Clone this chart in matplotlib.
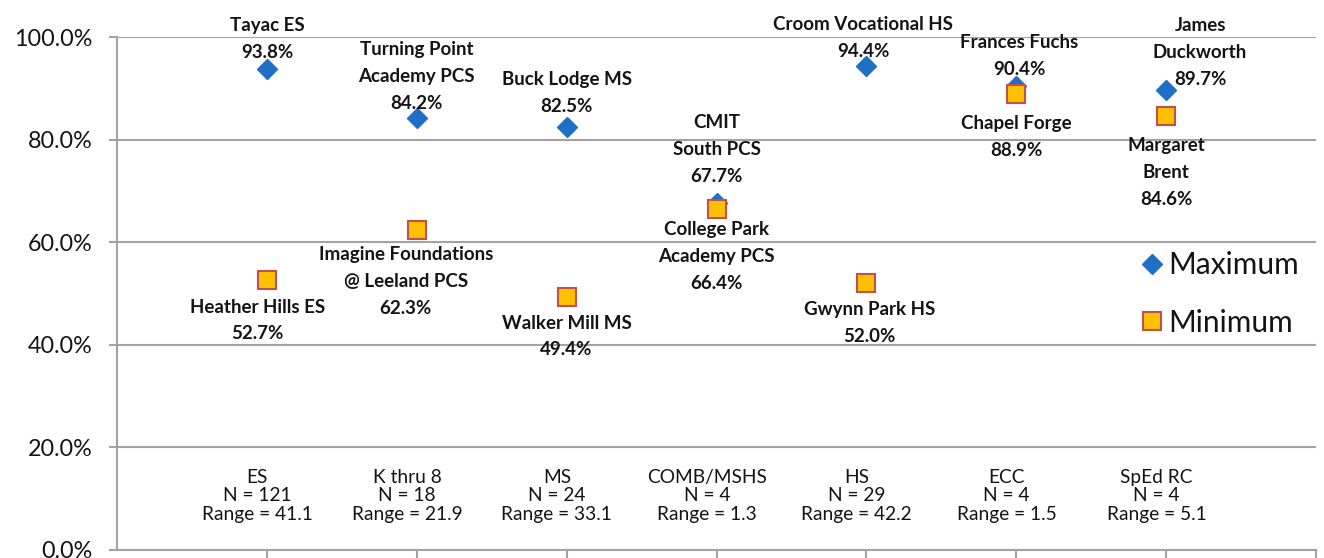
import matplotlib
matplotlib.use("Agg")
import matplotlib.pyplot as plt
from matplotlib.ticker import FuncFormatter, MultipleLocator

# ---- data ----
categories = ["ES", "K thru 8", "MS", "COMB/MSHS", "HS", "ECC", "SpEd RC"]
n_schools = [121, 18, 24, 4, 29, 4, 4]
ranges = [41.1, 21.9, 33.1, 1.3, 42.2, 1.5, 5.1]
max_values = [93.8, 84.2, 82.5, 67.7, 94.4, 90.4, 89.7]
max_names = ["Tayac ES", "Turning Point\nAcademy PCS", "Buck Lodge MS", "CMIT\nSouth PCS",
             "Croom Vocational HS", "Frances Fuchs", "James\nDuckworth"]
min_values = [52.7, 62.3, 49.4, 66.4, 52.0, 88.9, 84.6]
min_names = ["Heather Hills ES", "Imagine Foundations\n@ Leeland PCS", "Walker Mill MS",
             "College Park\nAcademy PCS", "Gwynn Park HS", "Chapel Forge", "Margaret\nBrent"]

# ---- layout tweaks (pixel offsets for labels) ----
max_dx = [0, 0, 0, 0, -3, 3, 34]
max_dy = [8, 6, 12, 18, 6, 8, 2]
min_dx = [-9, -11, 0, 0, 3, 0, 0]
min_dy = [-19, -16, -18, -12, -18, -21, -21]

FONT = "Lato"
TXT = "#141414"
GRID = "#a3a3a3"

fig = plt.figure(figsize=(13.24, 5.58), dpi=100)
ax = fig.add_axes([117 / 1324, 8 / 558, (1316 - 117) / 1324, (550 - 37) / 558])

xs = list(range(1, len(categories) + 1))
ax.plot(xs, max_values, linestyle="none", marker="D", markersize=10.5,
        color="#1f6fc5", markeredgecolor="#1f6fc5", label="Maximum", zorder=3)
ax.plot(xs, min_values, linestyle="none", marker="s", markersize=13.5,
        markerfacecolor="#ffc000", markeredgecolor="#c0504d", markeredgewidth=1.5,
        label="Minimum", zorder=4)

for i, x in enumerate(xs):
    ax.annotate(f"{max_names[i]}\n{max_values[i]:.1f}%", (x, max_values[i]),
                xytext=(max_dx[i], max_dy[i]), textcoords="offset pixels",
                ha="center", va="bottom", fontsize=13.5, fontweight="bold",
                family=FONT, color=TXT, linespacing=1.7, zorder=5)
    ax.annotate(f"{min_names[i]}\n{min_values[i]:.1f}%", (x, min_values[i]),
                xytext=(min_dx[i], min_dy[i]), textcoords="offset pixels",
                ha="center", va="top", fontsize=13.5, fontweight="bold",
                family=FONT, color=TXT, linespacing=1.7, zorder=5)
    ax.text(x - 0.065, 10.6, f"{categories[i]}\nN = {n_schools[i]}\nRange = {ranges[i]:.1f}",
            ha="center", va="center", fontsize=13.8, family=FONT, color=TXT,
            linespacing=1.1)

ax.set_xlim(0, 8)
ax.set_ylim(0, 100)
ax.yaxis.set_major_locator(MultipleLocator(20))
ax.yaxis.set_major_formatter(FuncFormatter(lambda v, p: f"{v:.1f}%"))
ax.set_xticks(range(1, 9))
ax.set_xticklabels([])
ax.grid(axis="y", color=GRID, linewidth=1.5, zorder=0)
ax.set_axisbelow(True)
for s in ["top", "right"]:
    ax.spines[s].set_visible(False)
for s in ["left", "bottom"]:
    ax.spines[s].set_color(GRID)
    ax.spines[s].set_linewidth(1.5)
ax.tick_params(axis="y", length=5.8, width=1.5, color=GRID, labelsize=16.8, labelcolor=TXT, pad=12)
ax.tick_params(axis="x", length=8, width=1.5, color=GRID)
for lab in ax.get_yticklabels():
    lab.set_family(FONT)

leg = ax.legend(loc="upper left", bbox_to_anchor=(1140 / 1324, (558 - 251) / 558),
                bbox_transform=fig.transFigure, frameon=False,
                prop={"family": FONT, "size": 21.5}, handlelength=0.8, handletextpad=0.15,
                labelspacing=1.0, borderaxespad=0, borderpad=0)
for t in leg.get_texts():
    t.set_color(TXT)

fig.savefig("out.png", dpi=100)
